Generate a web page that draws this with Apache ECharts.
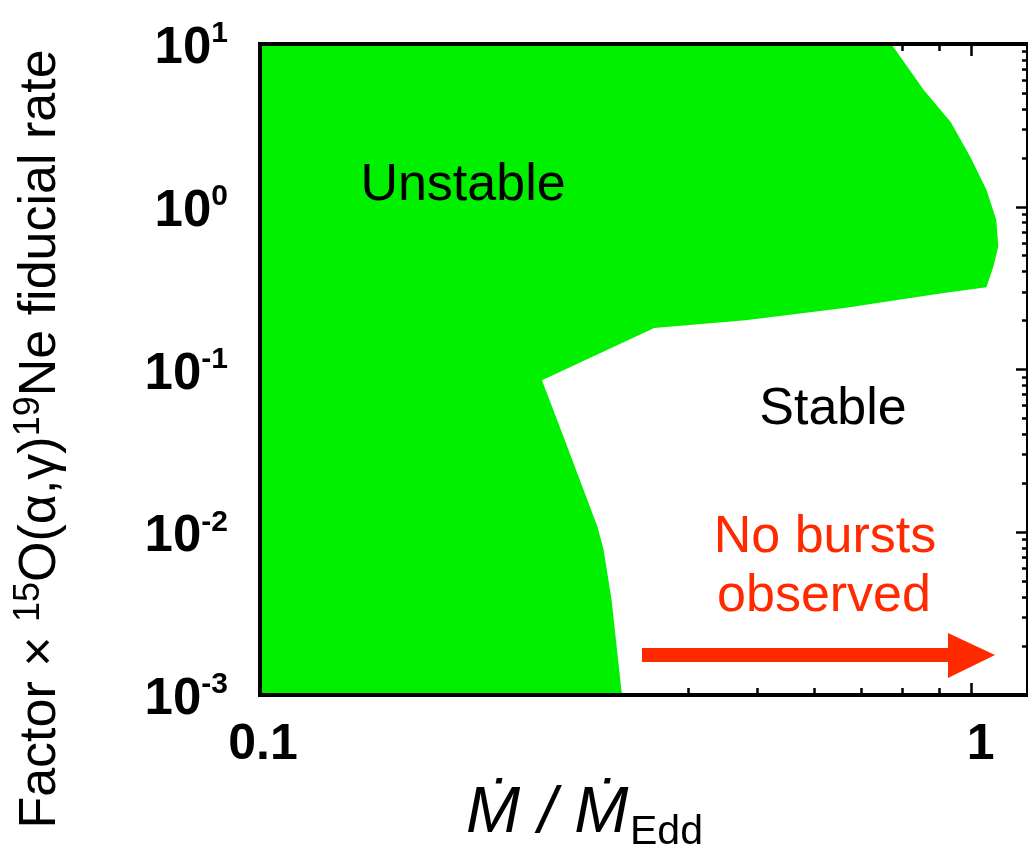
<!DOCTYPE html>
<html>
<head>
<meta charset="utf-8">
<script src="https://cdn.jsdelivr.net/npm/echarts@6/dist/echarts.min.js"></script>
<style>
html,body{margin:0;padding:0;background:#fff}
#c{width:1028px;height:855px}
</style>
</head>
<body>
<div id="c"></div>
<script>
// ---- data ----
const xRange = [0.1, 1.2];
const yRange = [0.001, 10];
const xTickValues = [0.1, 1];
const xTickLabels = ['0.1', '1'];
const xMinorValues = [0.2, 0.3, 0.4, 0.5, 0.6, 0.7, 0.8, 0.9];
const yTickValues = [0.001, 0.01, 0.1, 1, 10];
const yTickExponents = ['-3', '-2', '-1', '0', '1'];
const yMinorValues = [0.002,0.003,0.004,0.005,0.006,0.007,0.008,0.009,
                      0.02,0.03,0.04,0.05,0.06,0.07,0.08,0.09,
                      0.2,0.3,0.4,0.5,0.6,0.7,0.8,0.9,
                      2,3,4,5,6,7,8,9];
// boundary of the unstable (green) region: Mdot/MEdd and rate factor
const unstableMdot = [0.1, 0.1, 0.771, 0.857, 0.935, 0.997, 1.049, 1.083, 1.09, 1.073, 1.049, 0.914, 0.737, 0.663, 0.481, 0.358, 0.249, 0.268, 0.298, 0.304, 0.312, 0.322, 0.323];
const unstableRate = [0.001, 10, 10, 5.2, 3.3, 2.0, 1.27, 0.83, 0.57, 0.43, 0.32, 0.295, 0.256, 0.239, 0.201, 0.18, 0.086, 0.037, 0.0108, 0.0078, 0.0038, 0.00107, 0.001];
const regionLabels = ['Unstable', 'Stable'];
const noteLines = ['No bursts', 'observed'];

// ---- chart ----
const FONT = "'Liberation Sans', Arial, Helvetica, sans-serif";
const GREEN = '#00f000';
const RED = '#ff2a00';
const lx = v => Math.log10(v);
const pts = unstableMdot.map((m, i) => [lx(m), lx(unstableRate[i])]);

function axis(extra) {
  const a = {
    type: 'value',
    min: extra.dim === 'x' ? lx(xRange[0]) : lx(yRange[0]),
    max: extra.dim === 'x' ? lx(xRange[1]) : lx(yRange[1]),
    position: extra.position,
    splitLine: { show: false },
    axisLine: { show: false, onZero: false },
    axisTick: { show: false },
    axisLabel: { show: false },
    z: extra.z || 0
  };
  if (extra.ticks) {
    a.axisTick = { show: true, inside: true, length: extra.len, customValues: extra.ticks.map(lx),
      lineStyle: { color: '#000', width: 2.5 } };
  }
  if (extra.line) {
    a.axisLine = { show: true, onZero: false, lineStyle: { color: '#000', width: 4, cap: 'square' } };
  }
  if (extra.label) a.axisLabel = extra.label;
  return a;
}

const xLabel = {
  show: true,
  customValues: xTickValues.map(lx),
  margin: 25,
  color: '#000', fontSize: 50, fontWeight: 'bold', fontFamily: FONT, lineHeight: 50,
  formatter: v => {
    const i = xTickValues.findIndex(t => Math.abs(lx(t) - v) < 1e-6);
    if (i < 0) return '';
    return (i === 0 ? '{a|' : '{b|') + xTickLabels[i] + '}';
  },
  rich: {
    a: { fontSize: 50, fontWeight: 'bold', fontFamily: FONT, color: '#000', lineHeight: 50, padding: [0, 0, 0, 6] },
    b: { fontSize: 50, fontWeight: 'bold', fontFamily: FONT, color: '#000', lineHeight: 50, padding: [0, 0, 0, 18] }
  }
};
const yLabel = {
  show: true,
  customValues: yTickValues.map(lx),
  margin: 32,
  color: '#000', fontFamily: FONT,
  formatter: v => {
    const i = yTickValues.findIndex(t => Math.abs(lx(t) - v) < 1e-6);
    return i >= 0 ? '{b|10}{s|' + yTickExponents[i] + '}' : '';
  },
  rich: {
    b: { fontSize: 51, fontWeight: 'bold', fontFamily: FONT, color: '#000', lineHeight: 50, padding: [10, 0, 0, 0] },
    s: { fontSize: 30, fontWeight: 'bold', fontFamily: FONT, color: '#000', lineHeight: 30, verticalAlign: 'top' }
  }
};

const option = {
  animation: false,
  backgroundColor: '#fff',
  grid: { left: 260, top: 44, width: 775, height: 651, containLabel: false },
  xAxis: [
    axis({ dim: 'x', position: 'bottom', ticks: xTickValues, len: 12, label: xLabel }),
    axis({ dim: 'x', position: 'bottom', ticks: xMinorValues, len: 7 }),
    axis({ dim: 'x', position: 'top', ticks: xTickValues, len: 12 }),
    axis({ dim: 'x', position: 'top', ticks: xMinorValues, len: 7 }),
    axis({ dim: 'x', position: 'bottom', line: true, z: 10 }),
    axis({ dim: 'x', position: 'top', line: true, z: 10 })
  ],
  yAxis: [
    axis({ dim: 'y', position: 'left', ticks: yTickValues, len: 12, label: yLabel }),
    axis({ dim: 'y', position: 'left', ticks: yMinorValues, len: 7 }),
    axis({ dim: 'y', position: 'right', ticks: yTickValues, len: 12 }),
    axis({ dim: 'y', position: 'right', ticks: yMinorValues, len: 6 }),
    axis({ dim: 'y', position: 'left', line: true, z: 10 }),
    axis({ dim: 'y', position: 'right', line: true, z: 10 })
  ],
  series: [{
    type: 'custom',
    coordinateSystem: 'cartesian2d',
    xAxisIndex: 0, yAxisIndex: 0,
    silent: true,
    clip: true,
    z: 2,
    data: pts,
    renderItem: (params, api) => {
      if (params.dataIndex !== 0) return { type: 'group', children: [] };
      return {
        type: 'polygon',
        shape: { points: pts.map(p => api.coord(p)) },
        style: { fill: GREEN, stroke: null }
      };
    }
  }],
  graphic: [
    { type: 'text', x: 463, y: 186, z: 20,
      style: { text: regionLabels[0], fill: '#000', fontSize: 52, fontFamily: FONT,
               align: 'center', verticalAlign: 'middle', textAlign: 'center', textVerticalAlign: 'middle' } },
    { type: 'text', x: 833, y: 410, z: 20,
      style: { text: regionLabels[1], fill: '#000', fontSize: 52, fontFamily: FONT,
               align: 'center', verticalAlign: 'middle', textAlign: 'center', textVerticalAlign: 'middle' } },
    { type: 'text', x: 825, y: 538, z: 20,
      style: { text: noteLines[0], fill: RED, fontSize: 52, fontFamily: FONT,
               align: 'center', verticalAlign: 'middle', textAlign: 'center', textVerticalAlign: 'middle' } },
    { type: 'text', x: 824, y: 597, z: 20,
      style: { text: noteLines[1], fill: RED, fontSize: 52, fontFamily: FONT,
               align: 'center', verticalAlign: 'middle', textAlign: 'center', textVerticalAlign: 'middle' } },
    { type: 'rect', z: 20, shape: { x: 642, y: 648, width: 308, height: 14 }, style: { fill: RED } },
    { type: 'polygon', z: 20, shape: { points: [[948, 633], [995, 655], [948, 678]] }, style: { fill: RED } },
    { type: 'text', x: 466, y: 814, z: 20,
      style: { text: 'Ṁ / Ṁ', fill: '#000', fontSize: 65, fontStyle: 'italic', fontFamily: FONT,
               align: 'left', verticalAlign: 'middle', textAlign: 'left', textVerticalAlign: 'middle' } },
    { type: 'text', x: 630, y: 833, z: 20,
      style: { text: 'Edd', fill: '#000', fontSize: 41, fontFamily: FONT,
               align: 'left', verticalAlign: 'middle', textAlign: 'left', textVerticalAlign: 'middle' } },
    { type: 'text', x: 41, y: 439, z: 20, rotation: Math.PI / 2,
      style: {
        text: '{m|Factor × }{s|15}{m|O(α,γ)}{s|19}{m|Ne fiducial rate}',
        align: 'center', verticalAlign: 'middle', textAlign: 'center', textVerticalAlign: 'middle',
        rich: {
          m: { fontSize: 52, fontFamily: FONT, fill: '#000', color: '#000', lineHeight: 60 },
          s: { fontSize: 36, fontFamily: FONT, fill: '#000', color: '#000', lineHeight: 40, verticalAlign: 'top' }
        }
      } }
  ]
};

const chart = echarts.init(document.getElementById('c'), null, { renderer: 'canvas' });
chart.setOption(option);
</script>
</body>
</html>
